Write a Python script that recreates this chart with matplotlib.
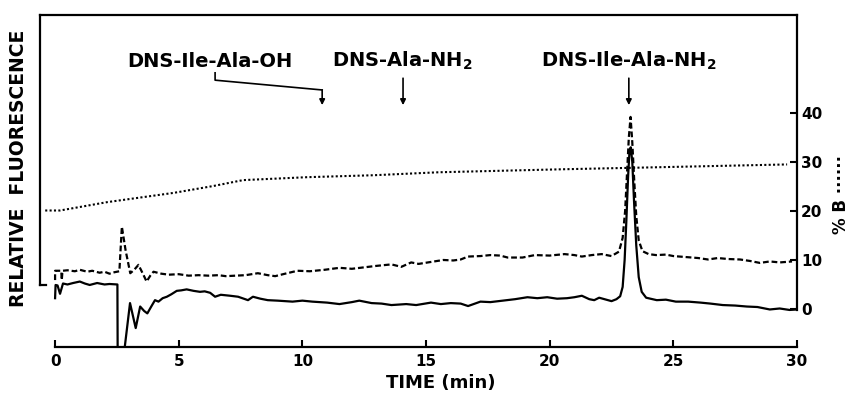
import matplotlib
matplotlib.use("Agg")
import matplotlib.pyplot as plt

plt.rcParams['font.family'] = ['DejaVu Sans']
plt.rcParams['font.weight'] = 'bold'
plt.rcParams['mathtext.default'] = 'regular'

# solid trace (fluorescence, plotted on the %B scale)
time_solid = [0.0, 0.02, 0.1, 0.2, 0.32, 0.5, 0.73, 1.0, 1.2, 1.4, 1.7, 2.0, 2.2, 2.52,
              2.53, 2.8, 3.03, 3.26, 3.44, 3.6, 3.73, 3.9, 4.04, 4.18, 4.35, 4.52, 4.7,
              4.92, 5.1, 5.32, 5.6, 5.86, 6.05, 6.27, 6.47, 6.7, 7.08, 7.4, 7.8, 8.0,
              8.3, 8.6, 9.0, 9.6, 10.0, 10.4, 11.0, 11.5, 12.0, 12.3, 12.8, 13.2, 13.6,
              14.2, 14.6, 15.2, 15.6, 16.0, 16.4, 16.7, 17.2, 17.6, 18.1, 18.6, 19.1,
              19.5, 19.9, 20.3, 20.7, 21.0, 21.3, 21.6, 21.8, 22.0, 22.5, 22.7, 22.85,
              22.95, 23.03, 23.1, 23.17, 23.23, 23.28, 23.34, 23.41, 23.5, 23.6, 23.72,
              23.9, 24.33, 24.7, 25.1, 25.6, 26.1, 26.5, 27.0, 27.5, 27.97, 28.4, 28.9,
              29.3, 29.7, 30.0]
signal_solid = [2.2, 4.9, 4.8, 3.1, 5.2, 5.0, 5.3, 5.6, 5.2, 4.9, 5.3, 5.0, 5.1, 5.0,
                -8.5, -8.5, 1.2, -3.9, 0.5, -0.4, -0.9, 0.6, 1.8, 1.5, 2.2, 2.5, 3.0,
                3.7, 3.8, 4.0, 3.7, 3.5, 3.6, 3.3, 2.5, 2.9, 2.7, 2.5, 1.8, 2.5,
                2.1, 1.8, 1.7, 1.5, 1.7, 1.5, 1.3, 1.0, 1.4, 1.7, 1.2, 1.1, 0.8,
                1.0, 0.8, 1.3, 1.0, 1.2, 1.1, 0.6, 1.5, 1.4, 1.7, 2.0, 2.4,
                2.2, 2.4, 2.1, 2.2, 2.4, 2.7, 2.0, 1.8, 2.3, 1.6, 2.0, 2.6,
                4.5, 10.0, 18.0, 27.0, 32.5, 33.0, 30.0, 22.0, 13.0, 6.5, 3.5,
                2.3, 1.8, 1.9, 1.5, 1.5, 1.3, 1.1, 0.8, 0.7, 0.5, 0.4, -0.1,
                0.1, -0.2, -0.1]

# dashed trace
time_dash = [0.0, 0.0, 0.25, 0.27, 0.3, 0.5, 0.8, 1.0, 1.3, 1.5, 1.8, 2.0, 2.2, 2.4,
             2.6, 2.7, 2.85, 3.04, 3.2, 3.37, 3.55, 3.7, 3.85, 3.98, 4.3, 4.6, 5.0,
             5.4, 5.8, 6.2, 6.6, 6.9, 7.3, 7.7, 8.2, 8.6, 8.9, 9.3, 9.8, 10.3, 10.9,
             11.5, 12.0, 12.5, 13.0, 13.6, 14.0, 14.4, 14.7, 15.2, 15.7, 16.1, 16.4,
             16.7, 17.2, 17.6, 18.0, 18.3, 18.9, 19.4, 20.0, 20.6, 21.0, 21.3, 21.7,
             22.1, 22.5, 22.8, 22.95, 23.05, 23.13, 23.2, 23.27, 23.34, 23.42, 23.5,
             23.6, 23.75, 24.0, 24.3, 24.7, 25.0, 25.5, 26.0, 26.4, 26.8, 27.2, 27.7,
             28.1, 28.5, 28.9, 29.3, 29.8]
signal_dash = [5.9, 7.8, 7.8, 5.9, 7.8, 7.9, 7.7, 8.0, 7.6, 7.8, 7.4, 7.6, 7.2, 7.5,
               7.7, 16.8, 12.0, 7.3, 8.0, 9.0, 7.2, 5.6, 6.8, 7.6, 7.2, 7.0, 7.1,
               6.8, 6.9, 6.8, 6.9, 6.7, 6.8, 6.9, 7.3, 6.9, 6.7, 7.2, 7.8, 7.7, 8.0,
               8.4, 8.2, 8.5, 8.8, 9.1, 8.6, 9.5, 9.2, 9.6, 10.0, 9.9, 10.1,
               10.7, 10.8, 11.0, 10.9, 10.5, 10.5, 11.0, 10.9, 11.2, 11.0, 10.7, 11.0,
               11.2, 10.8, 11.7, 14.5, 20.0, 28.0, 35.0, 39.2, 34.0, 26.0, 19.0,
               14.0, 11.8, 11.2, 11.0, 11.1, 10.8, 10.6, 10.4, 10.1, 10.4, 10.2, 10.1,
               9.8, 9.4, 9.7, 9.5, 9.7]

# gradient, % B
time_pctb = [-0.4, 0.2, 2.1, 4.8, 6.4, 7.6, 10.2, 12.9, 15.5, 20.4, 23.2, 29.6]
pct_b = [20.1, 20.1, 21.8, 23.7, 25.1, 26.3, 26.9, 27.3, 27.9, 28.5, 28.8, 29.5]

xticks = [0, 5, 10, 15, 20, 25, 30]
pctb_ticks = [0, 10, 20, 30, 40]

fig = plt.figure(figsize=(8.5, 3.94), dpi=100)
ax = fig.add_axes([40/850, 1-347/394, (797-40)/850, (347-15)/394])

ax.plot(time_solid, signal_solid, color='black', lw=1.6)
ax.plot(time_dash, signal_dash, color='black', lw=1.6, dashes=(2.6, 1.3))
ax.plot(time_pctb, pct_b, color='black', lw=1.5, linestyle=(0, (1, 1.1)))

ax.set_xlim(-0.61, 30.0)
ax.set_ylim(-7.76, 60.0)
for s in ax.spines.values():
    s.set_linewidth(1.6)
ax.spines['bottom'].set_bounds(0, 30)
ax.spines['right'].set_bounds(-0.2, 60)
ax.spines['left'].set_bounds(4.9, 60)
ax.plot([-0.61, -0.37], [4.9, 4.9], color='black', lw=1.6, clip_on=False)

ax.set_xticks(xticks)
ax.tick_params(axis='x', direction='in', length=5, width=1.5, labelsize=11, pad=5)
ax.yaxis.tick_right()
ax.set_yticks(pctb_ticks)
ax.tick_params(axis='y', direction='in', length=5, width=1.5, labelsize=11, pad=3)

fig.text(441/850, 1-383/394, 'TIME (min)', ha='center', va='center', fontsize=13)
fig.text(19/850, 1-168/394, 'RELATIVE  FLUORESCENCE', rotation=90,
         ha='center', va='center', fontsize=13.5)
fig.text(841/850, 1-195/394, '% B ······', rotation=90,
         ha='center', va='center', fontsize=12)

# peak labels
arrow = dict(arrowstyle='-|>', color='black', lw=1.2, mutation_scale=8, shrinkA=0, shrinkB=0)
ax.text(6.27, 49.4, 'DNS-Ile-Ala-OH', ha='center', va='baseline', fontsize=14)
ax.plot([6.47, 6.47, 10.8], [48.2, 46.7, 44.7], color='black', lw=1.2)
ax.annotate('', xy=(10.8, 41.6), xytext=(10.8, 44.7), arrowprops=arrow)
ax.text(14.05, 49.4, 'DNS-Ala-NH$_2$', ha='center', va='baseline', fontsize=14)
ax.annotate('', xy=(14.07, 41.6), xytext=(14.07, 47.1), arrowprops=arrow)
ax.text(23.19, 49.4, 'DNS-Ile-Ala-NH$_2$', ha='center', va='baseline', fontsize=14)
ax.annotate('', xy=(23.2, 41.6), xytext=(23.2, 47.1), arrowprops=arrow)

fig.savefig('out.png', dpi=100)
